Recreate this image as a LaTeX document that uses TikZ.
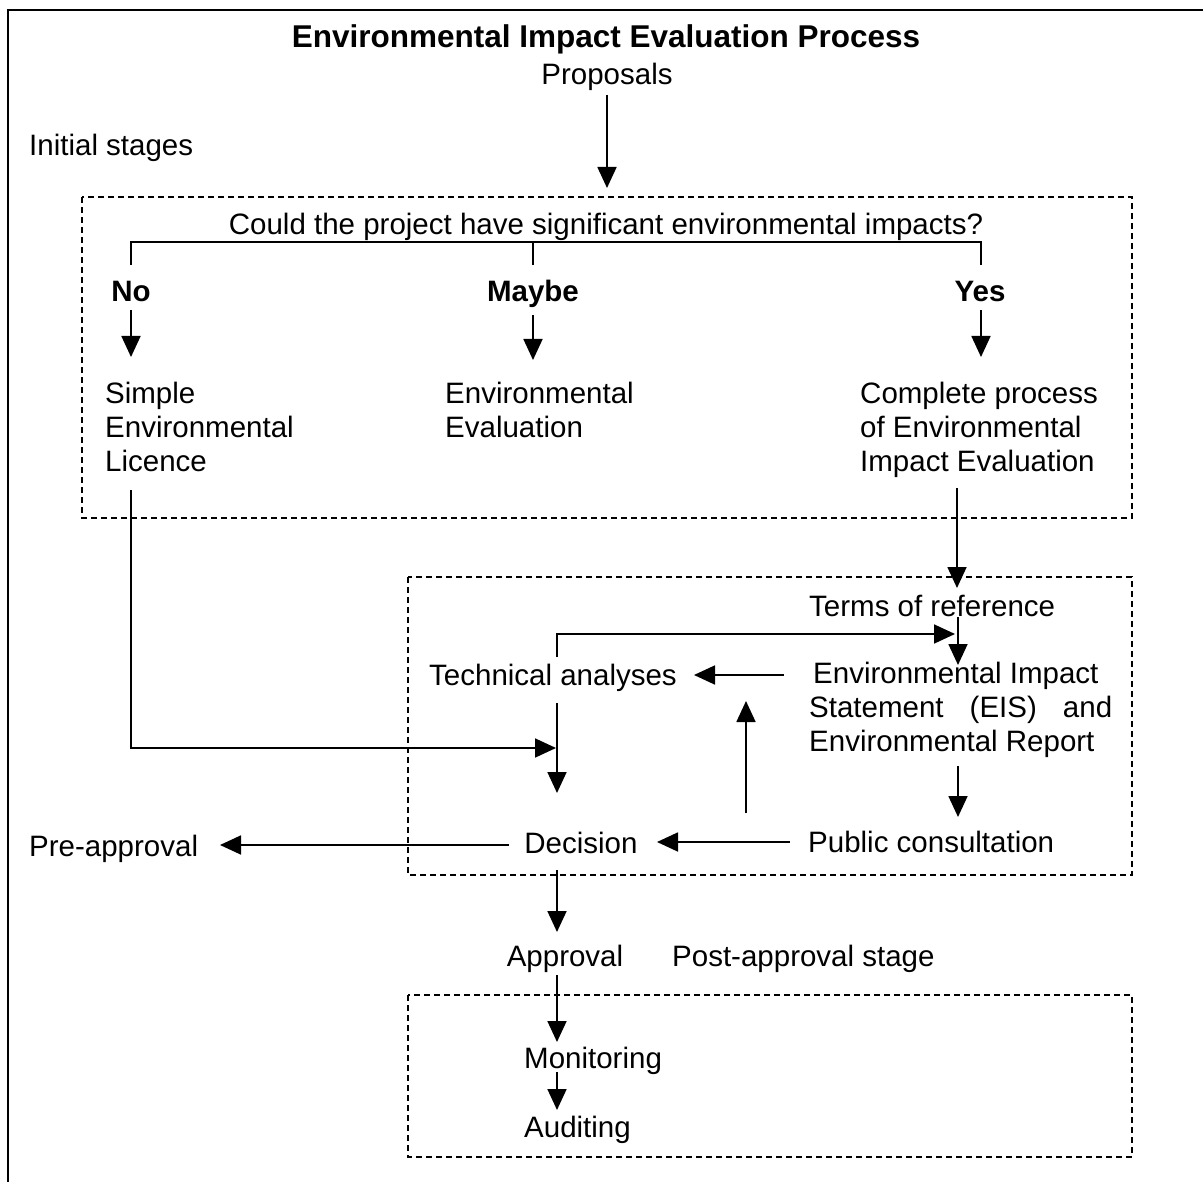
\documentclass[tikz,border=0pt]{standalone}
\usepackage{fontspec}
\setmainfont{Liberation Sans}
\usetikzlibrary{arrows.meta}
\begin{document}
\begin{tikzpicture}[x=1pt,y=-1pt,
  every node/.style={font=\fontsize{29.5}{34}\selectfont, inner sep=0pt},
  ttl/.style={font=\fontsize{31.5}{36}\selectfont\bfseries},
  bld/.style={font=\fontsize{29.5}{34}\selectfont\bfseries},
  conn/.style={line width=1.8pt},
  arr/.style={line width=1.8pt, -{Triangle[length=21pt,width=19pt]}},
  dbox/.style={line width=1.6pt, dash pattern=on 6pt off 4pt},
  lft/.style={anchor=west, align=left}]
\useasboundingbox (0,0) rectangle (1203,1182);
% outer frame
\draw[line width=2pt] (8,1182) -- (8,10) -- (1203,10);
% dashed group boxes
\draw[dbox] (82,197) rectangle (1132,518);
\draw[dbox] (408,577) rectangle (1132,875);
\draw[dbox] (408,995) rectangle (1132,1157);
% texts
\node[ttl, anchor=base] (title) at (606,48) {Environmental Impact Evaluation Process};
\node[anchor=base] (prop) at (607,85) {Proposals};
\node[anchor=base west] (init) at (29,156) {Initial stages};
\node[anchor=base] (quest) at (606,235) {Could the project have significant environmental impacts?};
\node[bld, anchor=base] (no) at (131,302) {No};
\node[bld, anchor=base] (maybe) at (533,302) {Maybe};
\node[bld, anchor=base] (yes) at (980,302) {Yes};
\node[lft] (simple) at (105,427) {Simple\\Environmental\\Licence};
\node[lft] (enveval) at (445,410) {Environmental\\Evaluation};
\node[lft] (complete) at (860,430) {Complete process\\of Environmental\\Impact Evaluation};
\node[anchor=base west] (terms) at (809,616) {Terms of reference};
\node[anchor=base] (tech) at (553,685) {Technical analyses};
\node[lft] (eis) at (809,710) {\hspace*{4pt}Environmental Impact\\\makebox[303pt][s]{Statement (EIS) and}\\Environmental Report};
\node[anchor=base] (decision) at (581,853) {Decision};
\node[anchor=base west] (pre) at (29,856) {Pre-approval};
\node[anchor=base west] (public) at (808,852) {Public consultation};
\node[anchor=base] (approval) at (565,966) {Approval};
\node[anchor=base west] (post) at (672,966) {Post-approval stage};
\node[anchor=base west] (monitor) at (524,1068) {Monitoring};
\node[anchor=base west] (audit) at (524,1137) {Auditing};
% connector end points
\coordinate (propS) at (607,95);
\coordinate (box1T) at (607,188);
\coordinate (brL) at (131,265);
\coordinate (brM) at (533,242);
\coordinate (brMd) at (533,265);
\coordinate (brR) at (981,242);
\coordinate (brRd) at (981,265);
\coordinate (noS) at (131,310);
\coordinate (simpleN) at (131,357);
\coordinate (maybeS) at (533,315);
\coordinate (envN) at (533,360);
\coordinate (yesS) at (981,310);
\coordinate (compN) at (981,357);
\coordinate (simpleS) at (131,490);
\coordinate (techSin) at (556,748);
\coordinate (compS) at (957,488);
\coordinate (termsN) at (957,588);
\coordinate (termsS) at (958,617);
\coordinate (eisN) at (958,665);
\coordinate (techN) at (557,657);
\coordinate (eisNW) at (955,634);
\coordinate (eisW) at (784,675);
\coordinate (techE) at (694,675);
\coordinate (upS) at (746,813);
\coordinate (upN) at (746,701);
\coordinate (techS) at (557,703);
\coordinate (decN) at (557,793);
\coordinate (eisS) at (958,766);
\coordinate (pubN) at (958,817);
\coordinate (pubW) at (790,842);
\coordinate (decE) at (657,842);
\coordinate (decW) at (509,845);
\coordinate (preE) at (220,845);
\coordinate (decS) at (557,870);
\coordinate (appN) at (557,932);
\coordinate (appS) at (557,975);
\coordinate (monN) at (557,1042);
\coordinate (monS) at (557,1072);
\coordinate (audN) at (557,1110);
% connectors
\draw[arr] (propS) -- (box1T);
\draw[conn] (brL) |- (brR) -- (brRd);
\draw[conn] (brM) -- (brMd);
\draw[arr] (noS) -- (simpleN);
\draw[arr] (maybeS) -- (envN);
\draw[arr] (yesS) -- (compN);
\draw[arr] (simpleS) |- (techSin);
\draw[arr] (compS) -- (termsN);
\draw[arr] (termsS) -- (eisN);
\draw[arr] (techN) |- (eisNW);
\draw[arr] (eisW) -- (techE);
\draw[arr] (upS) -- (upN);
\draw[arr] (techS) -- (decN);
\draw[arr] (eisS) -- (pubN);
\draw[arr] (pubW) -- (decE);
\draw[arr] (decW) -- (preE);
\draw[arr] (decS) -- (appN);
\draw[arr] (appS) -- (monN);
\draw[arr] (monS) -- (audN);
\end{tikzpicture}
\end{document}
